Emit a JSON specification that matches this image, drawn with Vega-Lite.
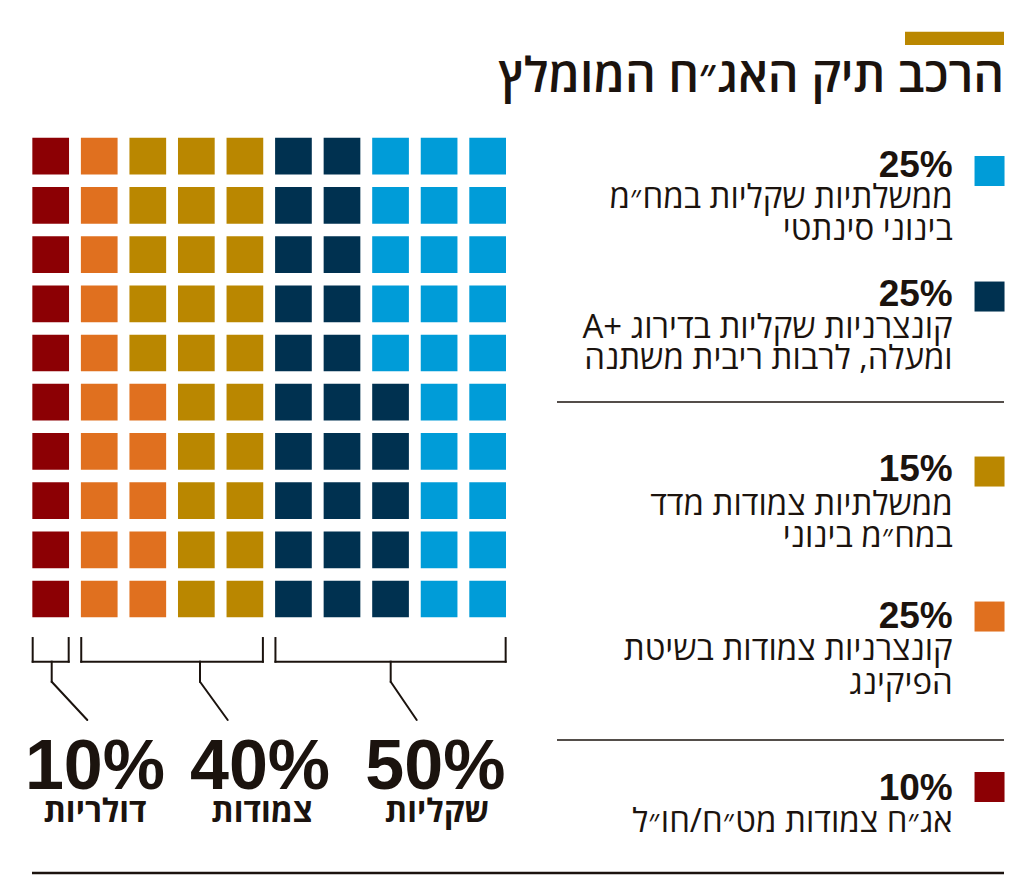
{
  "$schema": "https://vega.github.io/schema/vega-lite/v6.json",
  "width": 1024,
  "height": 883,
  "padding": 0,
  "autosize": {"type": "fit", "contains": "padding"},
  "background": "#ffffff",
  "config": {"view": {"stroke": null}},
  "datasets": {
    "cells": [
      {"col":1,"row":1,"cat":"fx"},{"col":1,"row":2,"cat":"fx"},{"col":1,"row":3,"cat":"fx"},{"col":1,"row":4,"cat":"fx"},{"col":1,"row":5,"cat":"fx"},{"col":1,"row":6,"cat":"fx"},{"col":1,"row":7,"cat":"fx"},{"col":1,"row":8,"cat":"fx"},{"col":1,"row":9,"cat":"fx"},{"col":1,"row":10,"cat":"fx"},
      {"col":2,"row":1,"cat":"corpCPI"},{"col":2,"row":2,"cat":"corpCPI"},{"col":2,"row":3,"cat":"corpCPI"},{"col":2,"row":4,"cat":"corpCPI"},{"col":2,"row":5,"cat":"corpCPI"},{"col":2,"row":6,"cat":"corpCPI"},{"col":2,"row":7,"cat":"corpCPI"},{"col":2,"row":8,"cat":"corpCPI"},{"col":2,"row":9,"cat":"corpCPI"},{"col":2,"row":10,"cat":"corpCPI"},
      {"col":3,"row":1,"cat":"govCPI"},{"col":3,"row":2,"cat":"govCPI"},{"col":3,"row":3,"cat":"govCPI"},{"col":3,"row":4,"cat":"govCPI"},{"col":3,"row":5,"cat":"govCPI"},{"col":3,"row":6,"cat":"corpCPI"},{"col":3,"row":7,"cat":"corpCPI"},{"col":3,"row":8,"cat":"corpCPI"},{"col":3,"row":9,"cat":"corpCPI"},{"col":3,"row":10,"cat":"corpCPI"},
      {"col":4,"row":1,"cat":"govCPI"},{"col":4,"row":2,"cat":"govCPI"},{"col":4,"row":3,"cat":"govCPI"},{"col":4,"row":4,"cat":"govCPI"},{"col":4,"row":5,"cat":"govCPI"},{"col":4,"row":6,"cat":"govCPI"},{"col":4,"row":7,"cat":"govCPI"},{"col":4,"row":8,"cat":"govCPI"},{"col":4,"row":9,"cat":"govCPI"},{"col":4,"row":10,"cat":"govCPI"},
      {"col":5,"row":1,"cat":"govCPI"},{"col":5,"row":2,"cat":"govCPI"},{"col":5,"row":3,"cat":"govCPI"},{"col":5,"row":4,"cat":"govCPI"},{"col":5,"row":5,"cat":"govCPI"},{"col":5,"row":6,"cat":"govCPI"},{"col":5,"row":7,"cat":"govCPI"},{"col":5,"row":8,"cat":"govCPI"},{"col":5,"row":9,"cat":"govCPI"},{"col":5,"row":10,"cat":"govCPI"},
      {"col":6,"row":1,"cat":"corpShekel"},{"col":6,"row":2,"cat":"corpShekel"},{"col":6,"row":3,"cat":"corpShekel"},{"col":6,"row":4,"cat":"corpShekel"},{"col":6,"row":5,"cat":"corpShekel"},{"col":6,"row":6,"cat":"corpShekel"},{"col":6,"row":7,"cat":"corpShekel"},{"col":6,"row":8,"cat":"corpShekel"},{"col":6,"row":9,"cat":"corpShekel"},{"col":6,"row":10,"cat":"corpShekel"},
      {"col":7,"row":1,"cat":"corpShekel"},{"col":7,"row":2,"cat":"corpShekel"},{"col":7,"row":3,"cat":"corpShekel"},{"col":7,"row":4,"cat":"corpShekel"},{"col":7,"row":5,"cat":"corpShekel"},{"col":7,"row":6,"cat":"corpShekel"},{"col":7,"row":7,"cat":"corpShekel"},{"col":7,"row":8,"cat":"corpShekel"},{"col":7,"row":9,"cat":"corpShekel"},{"col":7,"row":10,"cat":"corpShekel"},
      {"col":8,"row":1,"cat":"govShekel"},{"col":8,"row":2,"cat":"govShekel"},{"col":8,"row":3,"cat":"govShekel"},{"col":8,"row":4,"cat":"govShekel"},{"col":8,"row":5,"cat":"govShekel"},{"col":8,"row":6,"cat":"corpShekel"},{"col":8,"row":7,"cat":"corpShekel"},{"col":8,"row":8,"cat":"corpShekel"},{"col":8,"row":9,"cat":"corpShekel"},{"col":8,"row":10,"cat":"corpShekel"},
      {"col":9,"row":1,"cat":"govShekel"},{"col":9,"row":2,"cat":"govShekel"},{"col":9,"row":3,"cat":"govShekel"},{"col":9,"row":4,"cat":"govShekel"},{"col":9,"row":5,"cat":"govShekel"},{"col":9,"row":6,"cat":"govShekel"},{"col":9,"row":7,"cat":"govShekel"},{"col":9,"row":8,"cat":"govShekel"},{"col":9,"row":9,"cat":"govShekel"},{"col":9,"row":10,"cat":"govShekel"},
      {"col":10,"row":1,"cat":"govShekel"},{"col":10,"row":2,"cat":"govShekel"},{"col":10,"row":3,"cat":"govShekel"},{"col":10,"row":4,"cat":"govShekel"},{"col":10,"row":5,"cat":"govShekel"},{"col":10,"row":6,"cat":"govShekel"},{"col":10,"row":7,"cat":"govShekel"},{"col":10,"row":8,"cat":"govShekel"},{"col":10,"row":9,"cat":"govShekel"},{"col":10,"row":10,"cat":"govShekel"}
    ],
    "legend": [
      {"cat":"govShekel","pct":"25%","desc":["ממשלתיות שקליות במח״מ","בינוני סינתטי"]},
      {"cat":"corpShekel","pct":"25%","desc":["\u202Bקונצרניות שקליות בדירוג +A\u202C","ומעלה, לרבות ריבית משתנה"]},
      {"cat":"govCPI","pct":"15%","desc":["ממשלתיות צמודות מדד","במח״מ בינוני"]},
      {"cat":"corpCPI","pct":"25%","desc":["קונצרניות צמודות בשיטת","הפיקינג"]},
      {"cat":"fx","pct":"10%","desc":["אג״ח צמודות מט״ח/חו״ל"]}
    ],
    "groups": [
      {"group":"דולריות","pct":"10%","from":1,"to":1},
      {"group":"צמודות","pct":"40%","from":2,"to":5},
      {"group":"שקליות","pct":"50%","from":6,"to":10}
    ],
    "title": [{"title":"הרכב תיק האג״ח המומלץ"}],
    "one": [{}]
  },
  "layer": [
    {
      "data": {"name": "cells"},
      "mark": {"type": "square", "size": 1347, "opacity": 1, "filled": true},
      "encoding": {
        "x": {"field": "col", "type": "quantitative", "scale": {"domain": [-0.044, 21.047], "nice": false, "zero": false}, "axis": null},
        "y": {"field": "row", "type": "quantitative", "scale": {"domain": [-2.175, 15.772], "nice": false, "zero": false, "reverse": true}, "axis": null},
        "color": {"field": "cat", "type": "nominal", "scale": {"domain": ["govShekel","corpShekel","govCPI","corpCPI","fx"], "range": ["#009CD8","#003150","#BA8700","#E0701F","#8C0004"]}, "legend": null}
      }
    },
    {
      "data": {"name": "one"},
      "mark": {"type": "rect", "color": "#BA8700"},
      "encoding": {
        "x": {"datum": 18.596, "scale": {"domain": [-0.044, 21.047], "nice": false, "zero": false}, "axis": null},
        "x2": {"datum": 20.635},
        "y": {"datum": -1.530, "scale": {"domain": [-2.175, 15.772], "nice": false, "zero": false, "reverse": true}, "axis": null},
        "y2": {"datum": -1.260}
      }
    },
    {
      "data": {"name": "title"},
      "mark": {"type": "text", "align": "right", "baseline": "alphabetic", "font": "Open Sans", "fontWeight": 600, "fontSize": 48, "color": "#1B130E"},
      "encoding": {
        "x": {"datum": 20.635, "scale": {"domain": [-0.044, 21.047], "nice": false, "zero": false}, "axis": null},
        "y": {"datum": -0.305, "scale": {"domain": [-2.175, 15.772], "nice": false, "zero": false, "reverse": true}, "axis": null},
        "text": {"field": "title"}
      }
    },
    {
      "data": {"name": "legend"},
      "transform": [{"filter": "datum.cat == 'govShekel'"}],
      "layer": [
        {"mark": {"type": "square", "size": 900, "opacity": 1, "filled": true},
         "encoding": {"x": {"datum": 20.337, "scale": {"domain": [-0.044, 21.047], "nice": false, "zero": false}, "axis": null}, "y": {"datum": 1.301, "scale": {"domain": [-2.175, 15.772], "nice": false, "zero": false, "reverse": true}, "axis": null},
           "color": {"field": "cat", "type": "nominal", "scale": {"domain": ["govShekel","corpShekel","govCPI","corpCPI","fx"], "range": ["#009CD8","#003150","#BA8700","#E0701F","#8C0004"]}, "legend": null}}},
        {"mark": {"type": "text", "align": "right", "baseline": "alphabetic", "font": "Liberation Sans", "fontWeight": "bold", "fontSize": 37, "color": "#1B130E"},
         "encoding": {"x": {"datum": 19.579, "scale": {"domain": [-0.044, 21.047], "nice": false, "zero": false}, "axis": null}, "y": {"datum": 1.417, "scale": {"domain": [-2.175, 15.772], "nice": false, "zero": false, "reverse": true}, "axis": null}, "text": {"field": "pct"}}},
        {"mark": {"type": "text", "align": "right", "baseline": "alphabetic", "font": "Open Sans", "fontSize": 33, "lineHeight": 32, "color": "#1B130E"},
         "encoding": {"x": {"datum": 19.579, "scale": {"domain": [-0.044, 21.047], "nice": false, "zero": false}, "axis": null}, "y": {"datum": 2.053, "scale": {"domain": [-2.175, 15.772], "nice": false, "zero": false, "reverse": true}, "axis": null}, "text": {"field": "desc"}}}
      ]
    },
    {
      "data": {"name": "legend"},
      "transform": [{"filter": "datum.cat == 'corpShekel'"}],
      "layer": [
        {"mark": {"type": "square", "size": 900, "opacity": 1, "filled": true},
         "encoding": {"x": {"datum": 20.337, "scale": {"domain": [-0.044, 21.047], "nice": false, "zero": false}, "axis": null}, "y": {"datum": 3.852, "scale": {"domain": [-2.175, 15.772], "nice": false, "zero": false, "reverse": true}, "axis": null},
           "color": {"field": "cat", "type": "nominal", "scale": {"domain": ["govShekel","corpShekel","govCPI","corpCPI","fx"], "range": ["#009CD8","#003150","#BA8700","#E0701F","#8C0004"]}, "legend": null}}},
        {"mark": {"type": "text", "align": "right", "baseline": "alphabetic", "font": "Liberation Sans", "fontWeight": "bold", "fontSize": 37, "color": "#1B130E"},
         "encoding": {"x": {"datum": 19.579, "scale": {"domain": [-0.044, 21.047], "nice": false, "zero": false}, "axis": null}, "y": {"datum": 4.045, "scale": {"domain": [-2.175, 15.772], "nice": false, "zero": false, "reverse": true}, "axis": null}, "text": {"field": "pct"}}},
        {"mark": {"type": "text", "align": "right", "baseline": "alphabetic", "font": "Open Sans", "fontSize": 33, "lineHeight": 31, "color": "#1B130E"},
         "encoding": {"x": {"datum": 19.579, "scale": {"domain": [-0.044, 21.047], "nice": false, "zero": false}, "axis": null}, "y": {"datum": 4.695, "scale": {"domain": [-2.175, 15.772], "nice": false, "zero": false, "reverse": true}, "axis": null}, "text": {"field": "desc"}}}
      ]
    },
    {
      "data": {"name": "legend"},
      "transform": [{"filter": "datum.cat == 'govCPI'"}],
      "layer": [
        {"mark": {"type": "square", "size": 900, "opacity": 1, "filled": true},
         "encoding": {"x": {"datum": 20.337, "scale": {"domain": [-0.044, 21.047], "nice": false, "zero": false}, "axis": null}, "y": {"datum": 7.409, "scale": {"domain": [-2.175, 15.772], "nice": false, "zero": false, "reverse": true}, "axis": null},
           "color": {"field": "cat", "type": "nominal", "scale": {"domain": ["govShekel","corpShekel","govCPI","corpCPI","fx"], "range": ["#009CD8","#003150","#BA8700","#E0701F","#8C0004"]}, "legend": null}}},
        {"mark": {"type": "text", "align": "right", "baseline": "alphabetic", "font": "Liberation Sans", "fontWeight": "bold", "fontSize": 37, "color": "#1B130E"},
         "encoding": {"x": {"datum": 19.579, "scale": {"domain": [-0.044, 21.047], "nice": false, "zero": false}, "axis": null}, "y": {"datum": 7.602, "scale": {"domain": [-2.175, 15.772], "nice": false, "zero": false, "reverse": true}, "axis": null}, "text": {"field": "pct"}}},
        {"mark": {"type": "text", "align": "right", "baseline": "alphabetic", "font": "Open Sans", "fontSize": 33, "lineHeight": 32, "color": "#1B130E"},
         "encoding": {"x": {"datum": 19.579, "scale": {"domain": [-0.044, 21.047], "nice": false, "zero": false}, "axis": null}, "y": {"datum": 8.293, "scale": {"domain": [-2.175, 15.772], "nice": false, "zero": false, "reverse": true}, "axis": null}, "text": {"field": "desc"}}}
      ]
    },
    {
      "data": {"name": "legend"},
      "transform": [{"filter": "datum.cat == 'corpCPI'"}],
      "layer": [
        {"mark": {"type": "square", "size": 900, "opacity": 1, "filled": true},
         "encoding": {"x": {"datum": 20.337, "scale": {"domain": [-0.044, 21.047], "nice": false, "zero": false}, "axis": null}, "y": {"datum": 10.356, "scale": {"domain": [-2.175, 15.772], "nice": false, "zero": false, "reverse": true}, "axis": null},
           "color": {"field": "cat", "type": "nominal", "scale": {"domain": ["govShekel","corpShekel","govCPI","corpCPI","fx"], "range": ["#009CD8","#003150","#BA8700","#E0701F","#8C0004"]}, "legend": null}}},
        {"mark": {"type": "text", "align": "right", "baseline": "alphabetic", "font": "Liberation Sans", "fontWeight": "bold", "fontSize": 37, "color": "#1B130E"},
         "encoding": {"x": {"datum": 19.579, "scale": {"domain": [-0.044, 21.047], "nice": false, "zero": false}, "axis": null}, "y": {"datum": 10.589, "scale": {"domain": [-2.175, 15.772], "nice": false, "zero": false, "reverse": true}, "axis": null}, "text": {"field": "pct"}}},
        {"mark": {"type": "text", "align": "right", "baseline": "alphabetic", "font": "Open Sans", "fontSize": 33, "lineHeight": 34, "color": "#1B130E"},
         "encoding": {"x": {"datum": 19.579, "scale": {"domain": [-0.044, 21.047], "nice": false, "zero": false}, "axis": null}, "y": {"datum": 11.240, "scale": {"domain": [-2.175, 15.772], "nice": false, "zero": false, "reverse": true}, "axis": null}, "text": {"field": "desc"}}}
      ]
    },
    {
      "data": {"name": "legend"},
      "transform": [{"filter": "datum.cat == 'fx'"}],
      "layer": [
        {"mark": {"type": "square", "size": 900, "opacity": 1, "filled": true},
         "encoding": {"x": {"datum": 20.337, "scale": {"domain": [-0.044, 21.047], "nice": false, "zero": false}, "axis": null}, "y": {"datum": 13.821, "scale": {"domain": [-2.175, 15.772], "nice": false, "zero": false, "reverse": true}, "axis": null},
           "color": {"field": "cat", "type": "nominal", "scale": {"domain": ["govShekel","corpShekel","govCPI","corpCPI","fx"], "range": ["#009CD8","#003150","#BA8700","#E0701F","#8C0004"]}, "legend": null}}},
        {"mark": {"type": "text", "align": "right", "baseline": "alphabetic", "font": "Liberation Sans", "fontWeight": "bold", "fontSize": 37, "color": "#1B130E"},
         "encoding": {"x": {"datum": 19.579, "scale": {"domain": [-0.044, 21.047], "nice": false, "zero": false}, "axis": null}, "y": {"datum": 14.085, "scale": {"domain": [-2.175, 15.772], "nice": false, "zero": false, "reverse": true}, "axis": null}, "text": {"field": "pct"}}},
        {"mark": {"type": "text", "align": "right", "baseline": "alphabetic", "font": "Open Sans", "fontSize": 33, "lineHeight": 32, "color": "#1B130E"},
         "encoding": {"x": {"datum": 19.579, "scale": {"domain": [-0.044, 21.047], "nice": false, "zero": false}, "axis": null}, "y": {"datum": 14.736, "scale": {"domain": [-2.175, 15.772], "nice": false, "zero": false, "reverse": true}, "axis": null}, "text": {"field": "desc"}}}
      ]
    },
    {
      "data": {"name": "one"},
      "layer": [
        {"mark": {"type": "rule", "color": "#1B130E", "strokeWidth": 1.5},
         "encoding": {"x": {"datum": 11.428, "scale": {"domain": [-0.044, 21.047], "nice": false, "zero": false}, "axis": null}, "x2": {"datum": 20.635}, "y": {"datum": 5.996, "scale": {"domain": [-2.175, 15.772], "nice": false, "zero": false, "reverse": true}, "axis": null}}},
        {"mark": {"type": "rule", "color": "#1B130E", "strokeWidth": 1.5},
         "encoding": {"x": {"datum": 11.428, "scale": {"domain": [-0.044, 21.047], "nice": false, "zero": false}, "axis": null}, "x2": {"datum": 20.635}, "y": {"datum": 12.866, "scale": {"domain": [-2.175, 15.772], "nice": false, "zero": false, "reverse": true}, "axis": null}}},
        {"mark": {"type": "rule", "color": "#1B130E", "strokeWidth": 2.5},
         "encoding": {"x": {"datum": 0.615, "scale": {"domain": [-0.044, 21.047], "nice": false, "zero": false}, "axis": null}, "x2": {"datum": 20.635}, "y": {"datum": 15.569, "scale": {"domain": [-2.175, 15.772], "nice": false, "zero": false, "reverse": true}, "axis": null}}},
        {"mark": {"type": "rule", "color": "#1B130E", "strokeWidth": 2, "strokeCap": "square"},
         "encoding": {"x": {"datum": 1.021, "scale": {"domain": [-0.044, 21.047], "nice": false, "zero": false}, "axis": null}, "y": {"datum": 11.274, "scale": {"domain": [-2.175, 15.772], "nice": false, "zero": false, "reverse": true}, "axis": null}, "y2": {"datum": 11.681}}},
        {"mark": {"type": "rule", "color": "#1B130E", "strokeWidth": 2, "strokeCap": "round"},
         "encoding": {"x": {"datum": 1.021, "scale": {"domain": [-0.044, 21.047], "nice": false, "zero": false}, "axis": null}, "x2": {"datum": 1.754}, "y": {"datum": 11.681, "scale": {"domain": [-2.175, 15.772], "nice": false, "zero": false, "reverse": true}, "axis": null}, "y2": {"datum": 12.459}}},
        {"mark": {"type": "rule", "color": "#1B130E", "strokeWidth": 2, "strokeCap": "square"},
         "encoding": {"x": {"datum": 4.075, "scale": {"domain": [-0.044, 21.047], "nice": false, "zero": false}, "axis": null}, "y": {"datum": 11.274, "scale": {"domain": [-2.175, 15.772], "nice": false, "zero": false, "reverse": true}, "axis": null}, "y2": {"datum": 11.681}}},
        {"mark": {"type": "rule", "color": "#1B130E", "strokeWidth": 2, "strokeCap": "round"},
         "encoding": {"x": {"datum": 4.075, "scale": {"domain": [-0.044, 21.047], "nice": false, "zero": false}, "axis": null}, "x2": {"datum": 4.646}, "y": {"datum": 11.681, "scale": {"domain": [-2.175, 15.772], "nice": false, "zero": false, "reverse": true}, "axis": null}, "y2": {"datum": 12.459}}},
        {"mark": {"type": "rule", "color": "#1B130E", "strokeWidth": 2, "strokeCap": "square"},
         "encoding": {"x": {"datum": 8.003, "scale": {"domain": [-0.044, 21.047], "nice": false, "zero": false}, "axis": null}, "y": {"datum": 11.274, "scale": {"domain": [-2.175, 15.772], "nice": false, "zero": false, "reverse": true}, "axis": null}, "y2": {"datum": 11.681}}},
        {"mark": {"type": "rule", "color": "#1B130E", "strokeWidth": 2, "strokeCap": "round"},
         "encoding": {"x": {"datum": 8.003, "scale": {"domain": [-0.044, 21.047], "nice": false, "zero": false}, "axis": null}, "x2": {"datum": 8.539}, "y": {"datum": 11.681, "scale": {"domain": [-2.175, 15.772], "nice": false, "zero": false, "reverse": true}, "axis": null}, "y2": {"datum": 12.459}}}
      ]
    },
    {
      "data": {"name": "groups"},
      "layer": [
        {"mark": {"type": "rule", "color": "#1B130E", "strokeWidth": 2, "strokeCap": "square", "xOffset": -18},
         "encoding": {"x": {"field": "from", "type": "quantitative", "scale": {"domain": [-0.044, 21.047], "nice": false, "zero": false}, "axis": null}, "y": {"datum": 10.793, "scale": {"domain": [-2.175, 15.772], "nice": false, "zero": false, "reverse": true}, "axis": null}, "y2": {"datum": 11.274}}},
        {"mark": {"type": "rule", "color": "#1B130E", "strokeWidth": 2, "strokeCap": "square", "xOffset": 18},
         "encoding": {"x": {"field": "to", "type": "quantitative", "scale": {"domain": [-0.044, 21.047], "nice": false, "zero": false}, "axis": null}, "y": {"datum": 10.793, "scale": {"domain": [-2.175, 15.772], "nice": false, "zero": false, "reverse": true}, "axis": null}, "y2": {"datum": 11.274}}},
        {"mark": {"type": "rule", "color": "#1B130E", "strokeWidth": 2, "strokeCap": "square", "xOffset": -18, "x2Offset": 18},
         "encoding": {"x": {"field": "from", "type": "quantitative", "scale": {"domain": [-0.044, 21.047], "nice": false, "zero": false}, "axis": null}, "x2": {"field": "to"}, "y": {"datum": 11.274, "scale": {"domain": [-2.175, 15.772], "nice": false, "zero": false, "reverse": true}, "axis": null}}}
      ]
    },
    {
      "data": {"name": "groups"},
      "transform": [{"filter": "datum.pct == '10%'"}],
      "layer": [
        {"mark": {"type": "text", "align": "center", "baseline": "alphabetic", "font": "Liberation Sans", "fontWeight": "bold", "fontSize": 70, "color": "#1B130E"},
         "encoding": {"x": {"datum": 1.912, "scale": {"domain": [-0.044, 21.047], "nice": false, "zero": false}, "axis": null}, "y": {"datum": 13.862, "scale": {"domain": [-2.175, 15.772], "nice": false, "zero": false, "reverse": true}, "axis": null}, "text": {"field": "pct"}}},
        {"mark": {"type": "text", "align": "center", "baseline": "alphabetic", "font": "Open Sans", "fontWeight": "bold", "fontSize": 32, "color": "#1B130E"},
         "encoding": {"x": {"datum": 1.912, "scale": {"domain": [-0.044, 21.047], "nice": false, "zero": false}, "axis": null}, "y": {"datum": 14.533, "scale": {"domain": [-2.175, 15.772], "nice": false, "zero": false, "reverse": true}, "axis": null}, "text": {"field": "group"}}}
      ]
    },
    {
      "data": {"name": "groups"},
      "transform": [{"filter": "datum.pct == '40%'"}],
      "layer": [
        {"mark": {"type": "text", "align": "center", "baseline": "alphabetic", "font": "Liberation Sans", "fontWeight": "bold", "fontSize": 70, "color": "#1B130E"},
         "encoding": {"x": {"datum": 5.311, "scale": {"domain": [-0.044, 21.047], "nice": false, "zero": false}, "axis": null}, "y": {"datum": 13.862, "scale": {"domain": [-2.175, 15.772], "nice": false, "zero": false, "reverse": true}, "axis": null}, "text": {"field": "pct"}}},
        {"mark": {"type": "text", "align": "center", "baseline": "alphabetic", "font": "Open Sans", "fontWeight": "bold", "fontSize": 32, "color": "#1B130E"},
         "encoding": {"x": {"datum": 5.352, "scale": {"domain": [-0.044, 21.047], "nice": false, "zero": false}, "axis": null}, "y": {"datum": 14.533, "scale": {"domain": [-2.175, 15.772], "nice": false, "zero": false, "reverse": true}, "axis": null}, "text": {"field": "group"}}}
      ]
    },
    {
      "data": {"name": "groups"},
      "transform": [{"filter": "datum.pct == '50%'"}],
      "layer": [
        {"mark": {"type": "text", "align": "center", "baseline": "alphabetic", "font": "Liberation Sans", "fontWeight": "bold", "fontSize": 70, "color": "#1B130E"},
         "encoding": {"x": {"datum": 8.924, "scale": {"domain": [-0.044, 21.047], "nice": false, "zero": false}, "axis": null}, "y": {"datum": 13.862, "scale": {"domain": [-2.175, 15.772], "nice": false, "zero": false, "reverse": true}, "axis": null}, "text": {"field": "pct"}}},
        {"mark": {"type": "text", "align": "center", "baseline": "alphabetic", "font": "Open Sans", "fontWeight": "bold", "fontSize": 32, "color": "#1B130E"},
         "encoding": {"x": {"datum": 8.957, "scale": {"domain": [-0.044, 21.047], "nice": false, "zero": false}, "axis": null}, "y": {"datum": 14.533, "scale": {"domain": [-2.175, 15.772], "nice": false, "zero": false, "reverse": true}, "axis": null}, "text": {"field": "group"}}}
      ]
    }
  ]
}
